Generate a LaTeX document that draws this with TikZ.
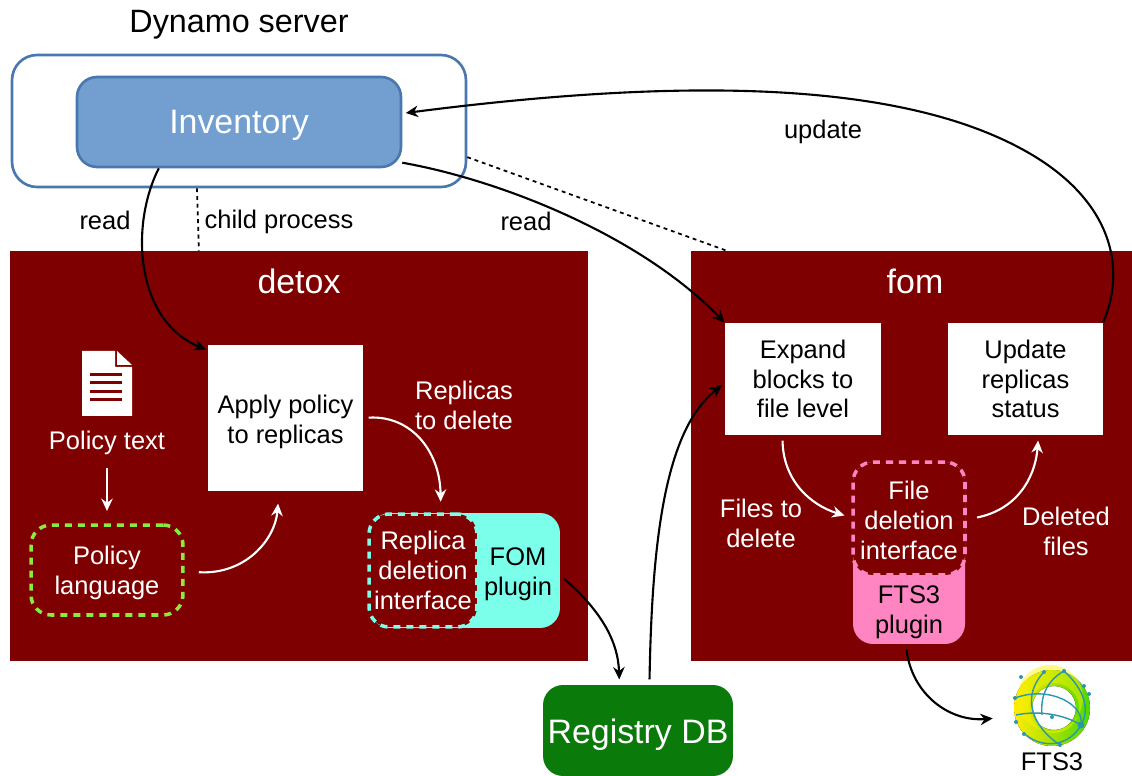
\documentclass[tikz,border=0pt]{standalone}
\usepackage{fontspec}
\setmainfont{Liberation Sans}
\usepackage{xcolor}
\usetikzlibrary{arrows.meta}
\definecolor{darkred}{HTML}{7F0000}
\definecolor{invblue}{HTML}{729FCF}
\definecolor{edgeblue}{HTML}{4A78AE}
\definecolor{regreen}{HTML}{0A7A0A}
\definecolor{plugcyan}{HTML}{7BFFEA}
\definecolor{plugpink}{HTML}{FF85C2}
\definecolor{limedash}{HTML}{8BEA3E}
\definecolor{logoteal}{HTML}{2A97AE}
\newcommand{\smalltxt}{\fontsize{14.5}{17}\selectfont}
\newcommand{\bigtxt}{\fontsize{19.3}{23}\selectfont}
\tikzset{
  process/.style = {fill=darkred, draw=none, text=white, inner sep=0pt, anchor=center},
  whitebox/.style = {fill=white, text=black, align=center, font=\smalltxt, inner sep=0pt},
  txt/.style = {align=center, font=\smalltxt, inner sep=0pt},
  whitetxt/.style = {txt, text=white},
  plugin/.style = {rounded corners=0.4cm, inner sep=0pt},
  iface/.style = {rounded corners=0.4cm, fill=darkred, text=white, align=center, font=\smalltxt,
    inner sep=0pt, line width=2pt, dash pattern=on 4pt off 3.4pt},
  blackarrow/.style = {-{Stealth[length=7pt,width=6.5pt]}, line width=1.2pt, black},
  whitearrow/.style = {-{Stealth[length=7pt,width=6.5pt]}, line width=1.2pt, white},
  childline/.style = {line width=1pt, dash pattern=on 2.2pt off 2.2pt}
}

\begin{document}
\begin{tikzpicture}[x=0.02cm,y=-0.02cm]
  \useasboundingbox (0,0) rectangle (1132,776);

  \node[font=\fontsize{18.4}{22}\selectfont, inner sep=0pt] (title) at (239,25) {Dynamo server};
  \node[draw=edgeblue, line width=1.5pt, fill=white, rounded corners=0.5cm, minimum width=9.08cm, minimum height=2.64cm, inner sep=0pt] (server) at (239,121) {};
  \node[draw=edgeblue, line width=1.5pt, fill=invblue, rounded corners=0.4cm, minimum width=6.48cm, minimum height=1.8cm, text=white, font=\bigtxt, inner sep=0pt, text height=15pt, text depth=1.4pt] (inventory) at (239,122) {Inventory};

  % two child processes
  \node[process, minimum width=11.56cm, minimum height=8.2cm] (detox) at (299,456) {};
  \node[process, minimum width=8.82cm, minimum height=8.2cm] (fom) at (911.5,456) {};
  \node[whitetxt, font=\bigtxt] (detoxname) at (299,281) {detox};
  \node[whitetxt, font=\bigtxt] (fomname) at (915,281) {fom};

  \node[whitebox, minimum width=3.1cm, minimum height=2.92cm] (apply) at (285.5,418) {\rule{0pt}{14.5pt}Apply policy\\to replicas};
  \node[whitebox, minimum width=3.12cm, minimum height=2.24cm] (expand) at (803,379) {Expand\\blocks to\\file level};
  \node[whitebox, minimum width=3.1cm, minimum height=2.24cm] (update) at (1025.5,379) {Update\\replicas\\status};

  % document icon
  \fill[white] (82,351) -- (115,351) -- (115,367) -- (132,367) -- (132,416) -- (82,416) -- cycle;
  \fill[white] (117,351) -- (132,365) -- (117,365) -- cycle;
  \foreach \ypos in {375,383,392,400} {
    \fill[darkred] (90,\ypos-1.5) rectangle (122,\ypos+1.5);
  }
  \node[whitetxt] (policytext) at (107,443) {Policy text};
  \node[iface, draw=limedash, minimum width=3.04cm, minimum height=1.8cm] (language) at (107,570) {\rule{0pt}{14pt}Policy\\language};

  \node[plugin, fill=plugcyan, minimum width=3.8cm, minimum height=2.3cm] (fomplugin) at (465,570.5) {};
  \node[txt] (fomlabel) at (518,574) {FOM\\plugin};
  \node[iface, draw=plugcyan, minimum width=2.16cm, minimum height=2.26cm] (replicaif) at (423,570.5) {Replica\\deletion\\interface};

  \node[plugin, fill=plugpink, minimum width=2.24cm, minimum height=3.64cm] (ftsplugin) at (909,553) {};
  \node[txt] (ftslabel) at (909,612) {FTS3\\plugin};
  \node[iface, draw=plugpink, minimum width=2.24cm, minimum height=2.26cm] (fileif) at (909,518.5) {\rule{0pt}{12.8pt}File\\deletion\\interface};

  \node[fill=regreen, text=white, rounded corners=0.4cm, minimum width=3.8cm, minimum height=1.82cm, font=\bigtxt, inner sep=0pt, text height=16pt, text depth=1pt] (registry) at (638,730.5) {Registry DB};

  % logo
  \node[circle, minimum size=1.5cm, inner sep=0pt] (logo) at (1052,708) {};
  \fill[even odd rule, left color=yellow!85!orange, right color=green!65!yellow!85!black] (1052,708) circle (38) (1054,708) circle (22);
  \fill[even odd rule, yellow, opacity=0.45] (1050,698) circle (33) (1054,708) circle (25);
  \begin{scope}[logoteal, line width=0.8pt]
    \draw (1015,698) .. controls (1050,685) and (1085,705) .. (1081,725);
    \draw (1016,715) .. controls (1040,710) and (1065,715) .. (1081,725);
    \draw (1044,672) .. controls (1022,695) and (1030,725) .. (1060,745);
    \draw (1064,671) .. controls (1085,690) and (1090,710) .. (1081,725);
    \draw (1042,715) .. controls (1040,695) and (1048,680) .. (1064,671);
    \draw (1026,735) .. controls (1045,750) and (1070,745) .. (1081,725);
    \foreach \xdot/\ydot in {1015/698,1021/677,1044/672,1064/671,1084/686,1089/694,1016/722,1024/734,1060/745,1052/717} {
      \fill (\xdot,\ydot) circle (2);
    }
    \fill (1081,725) circle (3.5);
  \end{scope}
  \node[txt] (ftsname) at (1052,762) {FTS3};

  % labels
  \node[txt] (readleft) at (105,220) {read};
  \node[txt] (childlabel) at (279,222) {child process};
  \node[txt] (readright) at (526,221) {read};
  \node[txt] (updatelabel) at (823,132) {update};
  \node[whitetxt] (replicaslabel) at (464,405) {Replicas\\to delete};
  \node[whitetxt] (fileslabel) at (761,523) {Files to\\delete};
  \node[whitetxt] (deletedlabel) at (1066,531) {Deleted\\files};

  % connectors
  \draw[childline] (server.238.2) -- (detox.116.2);
  \draw[childline] (server.-9.3) -- (fom.132.8);
  \draw[blackarrow, shorten >=1pt] (inventory.210.3) .. controls (130,225) and (135,320) .. (apply.139.6);
  \draw[blackarrow] (inventory.-14.5) .. controls (500,180) and (640,235) .. (expand.north west);
  \draw[blackarrow, shorten >=2pt] (update.36.9) .. controls (1128,265) and (1110,195) .. (1018,147) .. controls (900,85) and (700,75) .. (inventory.3.2);
  \draw[whitearrow, shorten <=7pt, shorten >=7pt] (policytext.south) -- (language.north);
  \draw[whitearrow, shorten <=8pt, shorten >=7pt] (language.-1.3) .. controls (245,575) and (275,540) .. (apply.-95);
  \draw[whitearrow, shorten <=3pt, shorten >=6pt] (apply.-0.5) .. controls (410,415) and (440,450) .. (replicaif.73);
  \draw[blackarrow, shorten <=3pt, shorten >=3pt] (fomplugin.-3.9) .. controls (600,610) and (618,640) .. (registry.112);
  \draw[blackarrow, shorten <=3pt, shorten >=2pt] (registry.76.5) .. controls (652,540) and (665,430) .. (expand.-177);
  \draw[whitearrow, shorten <=3pt, shorten >=4pt] (expand.-110.6) .. controls (783,480) and (810,505) .. (fileif.179);
  \draw[whitearrow, shorten <=6pt, shorten >=3pt] (fileif.-1) .. controls (1015,510) and (1035,480) .. (update.-77.4);
  \draw[blackarrow, shorten <=3pt, shorten >=12.8pt] (ftsplugin.-92.5) .. controls (912,695) and (950,722) .. (logo.193.3);
\end{tikzpicture}
\end{document}
